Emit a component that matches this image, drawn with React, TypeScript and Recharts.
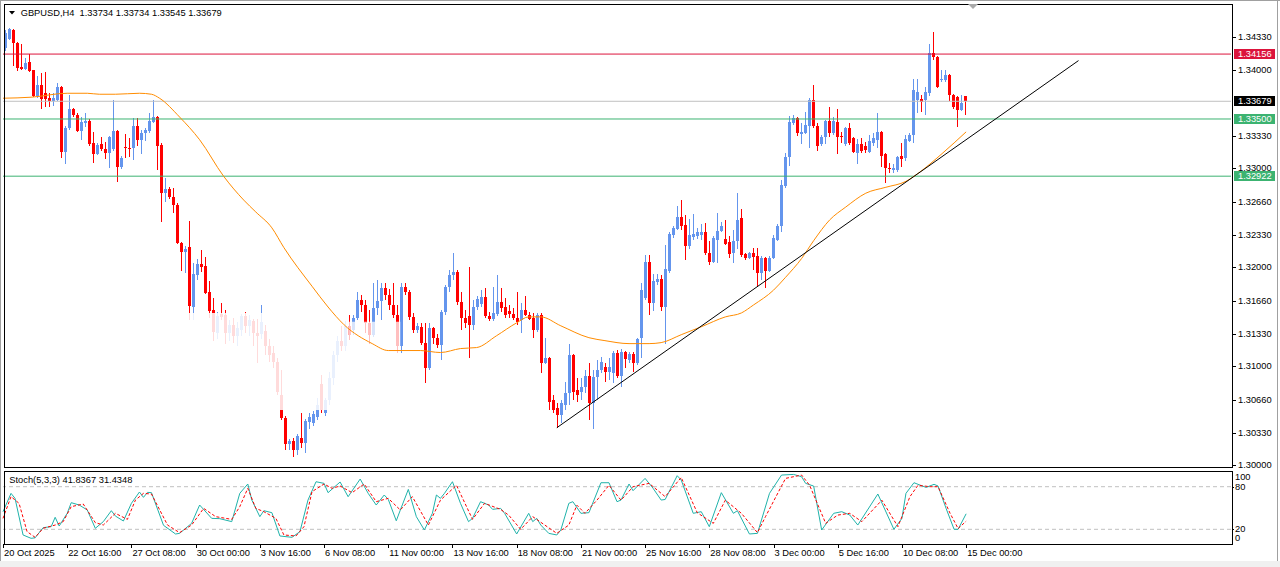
import React from "react";
import { ComposedChart, Bar, Line, XAxis, YAxis, ReferenceLine, ReferenceArea } from "recharts";

const FONT = "'Liberation Sans', Arial, sans-serif";
const SLOTS = 307;

const opens = [
1.3422,1.3431,1.3440,1.3427,1.3403,1.3401,1.3408,1.3399,1.3373,1.3384,
1.3376,1.3371,1.3368,1.3369,1.3382,1.3317,1.3341,1.3360,1.3354,1.3338,
1.3346,1.3348,1.3326,1.3315,1.3325,1.3320,1.3316,1.3320,1.3338,1.3301,
1.3322,1.3321,1.3321,1.3343,1.3329,1.3336,1.3338,1.3347,1.3352,1.3324,
1.3275,1.3279,1.3271,1.3263,1.3225,1.3216,1.3221,1.3160,1.3192,1.3203,
1.3201,1.3175,1.3157,1.3134,1.3153,1.3152,1.3134,1.3142,1.3131,1.3137,
1.3151,1.3141,1.3146,1.3134,1.3133,1.3136,1.3121,1.3114,1.3104,1.3071,
1.3048,1.3022,1.3025,1.3015,1.3028,1.3023,1.3044,1.3043,1.3049,1.3082,
1.3053,1.3066,1.3088,1.3111,1.3126,1.3121,1.3141,1.3137,1.3149,1.3167,
1.3162,1.3144,1.3132,1.3159,1.3166,1.3179,1.3172,1.3162,1.3152,1.3121,
1.3180,1.3175,1.3150,1.3137,1.3140,1.3124,1.3098,1.3139,1.3129,1.3122,
1.3155,1.3180,1.3192,1.3195,1.3165,1.3149,1.3151,1.3142,1.3160,1.3163,
1.3170,1.3151,1.3148,1.3153,1.3165,1.3160,1.3156,1.3153,1.3149,1.3147,
1.3157,1.3152,1.3149,1.3137,1.3152,1.3103,1.3108,1.3066,1.3058,1.3051,
1.3061,1.3073,1.3111,1.3076,1.3074,1.3079,1.3090,1.3063,1.3089,1.3096,
1.3099,1.3094,1.3093,1.3114,1.3090,1.3115,1.3106,1.3113,1.3103,1.3129,
1.3169,1.3205,1.3164,1.3185,1.3188,1.3160,1.3196,1.3233,1.3239,1.3251,
1.3243,1.3222,1.3231,1.3232,1.3233,1.3236,1.3215,1.3205,1.3228,1.3237,
1.3229,1.3226,1.3215,1.3227,1.3250,1.3214,1.3210,1.3215,1.3212,1.3194,
1.3210,1.3196,1.3210,1.3228,1.3242,1.3282,1.3312,1.3346,1.3351,1.3335,
1.3336,1.3343,1.3369,1.3343,1.3325,1.3332,1.3348,1.3336,1.3347,1.3333,
1.3325,1.3341,1.3331,1.3316,1.3325,1.3323,1.3317,1.3326,1.3329,1.3337,
1.3315,1.3300,1.3298,1.3298,1.3313,1.3311,1.3328,1.3334,1.3369,1.3370,
1.3369,1.3376,1.3417,1.3413,1.3389,1.3389,1.3394,1.3374,1.3372,1.3359,
1.33734];

const highs = [
1.3440,1.3442,1.3441,1.3428,1.3426,1.3412,1.3416,1.3400,1.3393,1.3396,
1.3397,1.3376,1.3376,1.3386,1.3383,1.3343,1.3374,1.3361,1.3356,1.3352,
1.3356,1.3350,1.3337,1.3326,1.3332,1.3327,1.3333,1.3369,1.3339,1.3313,
1.3335,1.3331,1.3351,1.3351,1.3339,1.3341,1.3356,1.3369,1.3353,1.3326,
1.3290,1.3281,1.3280,1.3265,1.3226,1.3222,1.3247,1.3204,1.3209,1.3218,
1.3211,1.3186,1.3169,1.3155,1.3164,1.3157,1.3147,1.3149,1.3145,1.3153,
1.3155,1.3152,1.3148,1.3148,1.3162,1.3142,1.3128,1.3121,1.3108,1.3096,
1.3050,1.3027,1.3028,1.3032,1.3053,1.3047,1.3053,1.3055,1.3068,1.3091,
1.3068,1.3094,1.3116,1.3131,1.3141,1.3146,1.3152,1.3152,1.3175,1.3172,
1.3167,1.3157,1.3184,1.3187,1.3184,1.3184,1.3178,1.3184,1.3162,1.3184,
1.3184,1.3177,1.3154,1.3144,1.3144,1.3144,1.3144,1.3140,1.3133,1.3157,
1.3182,1.3197,1.3215,1.3197,1.3175,1.3157,1.3200,1.3167,1.3171,1.3177,
1.3179,1.3155,1.3180,1.3192,1.3179,1.3169,1.3162,1.3159,1.3175,1.3164,
1.3171,1.3155,1.3154,1.3154,1.3154,1.3129,1.3109,1.3071,1.3063,1.3066,
1.3084,1.3123,1.3113,1.3088,1.3088,1.3096,1.3103,1.3096,1.3106,1.3109,
1.3103,1.3108,1.3116,1.3117,1.3118,1.3116,1.3115,1.3115,1.3129,1.3184,
1.3213,1.3213,1.3193,1.3193,1.3192,1.3223,1.3236,1.3242,1.3262,1.3268,
1.3253,1.3249,1.3254,1.3240,1.3244,1.3245,1.3227,1.3232,1.3255,1.3246,
1.3248,1.3232,1.3238,1.3275,1.3259,1.3215,1.3216,1.3220,1.3220,1.3212,
1.3211,1.3212,1.3233,1.3244,1.3288,1.3316,1.3353,1.3354,1.3352,1.3346,
1.3357,1.3371,1.3384,1.3346,1.3334,1.3349,1.3362,1.3352,1.3360,1.3337,
1.3342,1.3346,1.3332,1.3330,1.3331,1.3327,1.3334,1.3336,1.3356,1.3338,
1.3316,1.3306,1.3305,1.3313,1.3326,1.3334,1.3336,1.3390,1.3390,1.3374,
1.3382,1.3426,1.3438,1.3414,1.3399,1.3399,1.3395,1.3375,1.3373,1.3374,
1.33734];

const lows = [
1.3419,1.3430,1.3404,1.3398,1.3400,1.3399,1.3397,1.3372,1.3371,1.3360,
1.3362,1.3362,1.3363,1.3368,1.3311,1.3305,1.3339,1.3352,1.3337,1.3329,
1.3342,1.3323,1.3306,1.3314,1.3318,1.3310,1.3300,1.3318,1.3286,1.3299,
1.3311,1.3312,1.3309,1.3323,1.3315,1.3328,1.3336,1.3346,1.3298,1.3246,
1.3266,1.3269,1.3255,1.3224,1.3196,1.3194,1.3147,1.3147,1.3187,1.3195,
1.3173,1.3149,1.3126,1.3128,1.3147,1.3123,1.3126,1.3124,1.3121,1.3131,
1.3134,1.3131,1.3121,1.3103,1.3128,1.3111,1.3104,1.3098,1.3071,1.3046,
1.3015,1.3015,1.3008,1.3010,1.3018,1.3012,1.3037,1.3040,1.3046,1.3053,
1.3050,1.3061,1.3081,1.3104,1.3116,1.3116,1.3127,1.3132,1.3147,1.3155,
1.3134,1.3123,1.3130,1.3152,1.3147,1.3167,1.3157,1.3149,1.3114,1.3114,
1.3172,1.3147,1.3134,1.3134,1.3122,1.3083,1.3096,1.3123,1.3119,1.3106,
1.3152,1.3175,1.3187,1.3162,1.3137,1.3139,1.3108,1.3137,1.3157,1.3160,
1.3149,1.3146,1.3146,1.3151,1.3155,1.3149,1.3149,1.3147,1.3142,1.3134,
1.3151,1.3147,1.3129,1.3135,1.3093,1.3102,1.3056,1.3053,1.3038,1.3043,
1.3056,1.3061,1.3066,1.3064,1.3066,1.3073,1.3046,1.3037,1.3066,1.3093,
1.3084,1.3086,1.3083,1.3088,1.3079,1.3098,1.3103,1.3094,1.3101,1.3108,
1.3167,1.3152,1.3156,1.3182,1.3156,1.3123,1.3194,1.3230,1.3238,1.3238,
1.3208,1.3219,1.3228,1.3229,1.3228,1.3213,1.3202,1.3204,1.3204,1.3236,
1.3223,1.3210,1.3204,1.3219,1.3211,1.3207,1.3209,1.3197,1.3180,1.3187,
1.3179,1.3195,1.3209,1.3227,1.3236,1.3280,1.3302,1.3344,1.3333,1.3325,
1.3335,1.3321,1.3341,1.3318,1.3323,1.3325,1.3332,1.3334,1.3315,1.3326,
1.3323,1.3324,1.3316,1.3305,1.3316,1.3316,1.3316,1.3323,1.3321,1.3301,
1.3285,1.3295,1.3295,1.3296,1.3301,1.3308,1.3327,1.3326,1.3356,1.3357,
1.3354,1.3373,1.3410,1.3381,1.3387,1.3387,1.3368,1.3360,1.3342,1.3358,
1.33545];

const closes = [
1.3437,1.3441,1.3427,1.3402,1.3401,1.3407,1.3398,1.3373,1.3384,1.3370,
1.3370,1.3368,1.3371,1.3382,1.3317,1.3341,1.3360,1.3354,1.3338,1.3347,
1.3348,1.3325,1.3315,1.3324,1.3320,1.3316,1.3332,1.3338,1.3301,1.3311,
1.3321,1.3320,1.3343,1.3329,1.3336,1.3339,1.3348,1.3352,1.3323,1.3275,
1.3279,1.3271,1.3263,1.3225,1.3216,1.3219,1.3161,1.3193,1.3203,1.3200,
1.3174,1.3156,1.3135,1.3151,1.3150,1.3134,1.3142,1.3131,1.3139,1.3151,
1.3141,1.3147,1.3134,1.3131,1.3145,1.3121,1.3111,1.3104,1.3074,1.3048,
1.3022,1.3025,1.3015,1.3030,1.3023,1.3045,1.3049,1.3052,1.3061,1.3056,
1.3066,1.3088,1.3111,1.3126,1.3121,1.3141,1.3132,1.3149,1.3167,1.3162,
1.3144,1.3132,1.3159,1.3166,1.3179,1.3172,1.3162,1.3152,1.3121,1.3180,
1.3175,1.3150,1.3137,1.3141,1.3124,1.3098,1.3139,1.3129,1.3122,1.3155,
1.3180,1.3192,1.3195,1.3165,1.3149,1.3144,1.3142,1.3160,1.3168,1.3170,
1.3151,1.3148,1.3154,1.3165,1.3159,1.3152,1.3153,1.3149,1.3145,1.3157,
1.3152,1.3148,1.3137,1.3152,1.3103,1.3108,1.3064,1.3056,1.3051,1.3063,
1.3073,1.3111,1.3074,1.3071,1.3079,1.3090,1.3063,1.3089,1.3096,1.3104,
1.3094,1.3099,1.3114,1.3090,1.3115,1.3107,1.3113,1.3103,1.3128,1.3177,
1.3205,1.3164,1.3186,1.3188,1.3160,1.3198,1.3234,1.3240,1.3251,1.3242,
1.3222,1.3233,1.3234,1.3236,1.3236,1.3215,1.3205,1.3230,1.3237,1.3242,
1.3224,1.3214,1.3227,1.3248,1.3213,1.3210,1.3215,1.3211,1.3194,1.3210,
1.3196,1.3210,1.3230,1.3242,1.3283,1.3312,1.3347,1.3351,1.3336,1.3337,
1.3344,1.3369,1.3343,1.3323,1.3332,1.3348,1.3336,1.3348,1.3332,1.3332,
1.3341,1.3326,1.3317,1.3325,1.3318,1.3319,1.3328,1.3331,1.3337,1.3313,
1.3300,1.3299,1.3300,1.3312,1.3310,1.3330,1.3334,1.3379,1.3377,1.3367,
1.3377,1.3417,1.3413,1.3382,1.3390,1.3394,1.3374,1.3362,1.3359,1.3366,
1.33679];

// moving average read at selected bars: [bar, value]
const maPoints: [number, number][] = [
[0,1.3371],[7,1.3372],[16,1.3376],[21,1.3376],[24,1.3375],[28,1.3375],[34,1.3376],[37,1.3375],
[39,1.3371],[44,1.3352],[49,1.3329],[55,1.3292],[60,1.3268],[63,1.3256],[67,1.3240],[70,1.3220],
[77,1.3181],[81,1.3160],[85,1.3142],[92,1.3123],[96,1.3116],[104,1.3116],[109,1.3114],[114,1.3118],
[118,1.3119],[123,1.3131],[128,1.3144],[131,1.3150],[134,1.3150],[139,1.3141],[146,1.3129],[150,1.3126],
[156,1.3123],[161,1.3123],[164,1.3124],[169,1.3132],[174,1.3140],[180,1.3150],[184,1.3154],[187,1.3162],
[192,1.3177],[195,1.3190],[199,1.3209],[202,1.3227],[206,1.3248],[210,1.3261],[215,1.3275],[220,1.3281],
[225,1.3287],[228,1.3295],[234,1.3315],[240,1.3337]];

const trendPoints: [number, number][] = [[138, 1.3038], [268, 1.3409]];

const stochMain: [number, number][] = [
[0,44.8],[2,70.6],[3,63.6],[5,12],[7,7.3],[8,8],[10,22.3],[12,23.7],[13,36.9],[14,24.6],[16,42.5],[17,57.5],
[19,54.2],[21,47.2],[23,21.4],[25,30.8],[27,46.2],[28,38.7],[30,31.7],[32,56.6],[34,72.5],[35,65],[36,72],
[37,71.6],[40,25.6],[43,13.4],[44,14.3],[47,28.4],[49,54.2],[52,35.4],[54,35],[57,30.8],[59,70.6],[61,83.8],
[62,61.2],[64,37.8],[65,46.2],[67,43.4],[69,10.6],[72,8.7],[74,16.7],[76,61.2],[78,87],[80,84.7],[81,71.6],
[84,86.6],[86,65.9],[89,90.8],[91,70.6],[93,54.2],[95,68.3],[96,62.2],[98,32],[99,47],[101,76.2],[103,37.8],
[105,19],[107,42.5],[108,68.3],[109,63.6],[110,70.6],[112,87],[114,56.6],[116,30.8],[117,35.4],[119,58.9],
[121,54.2],[122,48.1],[124,49.5],[125,42.5],[128,13.4],[131,42.5],[132,30.8],[133,35.4],[134,26],[136,14.3],
[138,12],[139,19],[141,56.6],[142,58.9],[144,42.5],[146,43.4],[149,85.6],[151,85.6],[153,58.9],[154,61.2],
[156,83.8],[157,74.4],[160,91.7],[162,77.7],[164,61.2],[165,62],[168,95.5],[169,89.4],[172,42.5],[174,44.8],
[176,23.7],[179,71.6],[182,42.5],[183,46.2],[186,13.4],[188,14.3],[189,33.1],[191,70.6],[194,96.4],[197,97.3],
[199,94],[200,84.7],[202,80.9],[204,19],[207,42.5],[209,44.8],[211,40.1],[213,26],[218,69.7],[222,20],
[224,35.4],[225,70.6],[227,85.6],[230,79],[232,83.3],[233,81],[235,49.5],[237,20],[238,20],[240,41.8367]];

const stochSignal: [number, number][] = [
[0,35.4],[2,66],[4,56.6],[6,16.7],[8,8.7],[10,21.4],[13,26],[15,30.8],[17,51.9],[20,55.6],[23,29.4],[25,26],
[28,42.5],[31,34],[33,61.2],[35,70.6],[37,69.7],[41,26],[44,15.3],[47,26],[50,49.5],[53,37.8],[57,34],[59,51.9],
[61,77.7],[63,49.5],[65,44.8],[68,35.4],[70,12],[73,10.6],[75,23.7],[77,73],[80,83.8],[82,77.7],[84,81],[87,71.6],
[90,83.8],[93,58.9],[96,63.6],[99,47.2],[102,66],[106,26],[109,61],[113,82],[117,34],[120,56.6],[124,48],[126,40],
[129,20],[132,37.8],[135,26],[138,14.3],[141,26],[143,54],[145,42.5],[148,61],[151,82],[154,61],[157,80],[161,84.7],
[165,66],[169,93],[173,43.4],[177,28.4],[180,61],[184,42.5],[188,15.3],[190,37.8],[195,91.7],[199,96.4],[201,82],
[205,28.4],[208,40],[211,42.5],[214,30.8],[219,61],[223,23.7],[226,66],[228,82],[231,80],[233,80],[236,42.5],
[238,21],[240,31.4348]];

const dateTickBars = [0,16,32,48,64,80,96,112,128,144,160,176,192,208,224,240];
const dateLabels = ["20 Oct 2025","22 Oct 16:00","27 Oct 08:00","30 Oct 00:00","3 Nov 16:00","6 Nov 08:00",
"11 Nov 00:00","13 Nov 16:00","18 Nov 08:00","21 Nov 00:00","25 Nov 16:00","28 Nov 08:00","3 Dec 00:00",
"5 Dec 16:00","10 Dec 08:00","15 Dec 00:00"];

const priceTicks = [1.3,1.3033,1.3066,1.31,1.3133,1.3166,1.32,1.3233,1.3266,1.33,1.3333,1.34,1.3433];
const stochTicks = [0,20,80,100];
const resistance = 1.34156;
const lastPrice = 1.33679;
const support1 = 1.335;
const support2 = 1.32922;
const fadeZone = { x1: 44, x2: 86, y1: 1.3056, y2: 1.3154 };
const fadeZone2 = { x1: 86, x2: 99, y1: 1.3106, y2: 1.3145 };

const toMap = (pts: [number, number][]) => new Map(pts.map(([k, v]) => [k, v]));
const maMap = toMap(maPoints);
const trMap = toMap(trendPoints);
const smMap = toMap(stochMain);
const ssMap = toMap(stochSignal);

const rows = Array.from({ length: SLOTS }, (_, i) => ({
  i,
  o: i < opens.length ? opens[i] : null,
  h: i < highs.length ? highs[i] : null,
  l: i < lows.length ? lows[i] : null,
  c: i < closes.length ? closes[i] : null,
  ma: maMap.has(i) ? maMap.get(i) : null,
  tr: trMap.has(i) ? trMap.get(i) : null,
  sm: smMap.has(i) ? smMap.get(i) : null,
  ss: ssMap.has(i) ? ssMap.get(i) : null,
}));

const UP = "#6495ED";
const DOWN = "#FF0000";
const PRICE_DOMAIN: [number, number] = [1.29973, 1.34662];
const MAIN_MARGIN = { top: 4, left: 3, right: 0, bottom: 2 };

const Candle = (props: any) => {
  const { x, y, width, height, payload } = props;
  if (!payload || payload.o == null || !isFinite(x) || !isFinite(y) || !isFinite(height)) return <g />;
  const top = Math.min(y, y + height);
  const h = Math.abs(height);
  const range = payload.h - payload.l || 1e-9;
  const toY = (v: number) => top + ((payload.h - v) / range) * h;
  const yo = toY(payload.o);
  const yc = toY(payload.c);
  const color = payload.c >= payload.o ? UP : DOWN;
  const cx = Math.floor(x + width / 2);
  const wt = Math.round(top);
  const wb = Math.max(wt + 1, Math.round(top + h));
  const bt = Math.round(Math.min(yo, yc));
  const bb = Math.max(bt + 1, Math.round(Math.max(yo, yc)));
  return (
    <g shapeRendering="crispEdges">
      <rect x={cx} y={wt} width={1} height={wb - wt} fill={color} />
      <rect x={cx - 1} y={bt} width={3} height={bb - bt} fill={color} />
    </g>
  );
};

const PriceTick = (p: any) => {
  const { x, y, payload } = p;
  const yy = Math.round(y) + 0.5;
  return (
    <g>
      <line x1={x + 1} x2={x + 5} y1={yy} y2={yy} stroke="#000" shapeRendering="crispEdges" />
      <text x={x + 7} y={y} dominantBaseline="central" fontSize={9.3} fontFamily={FONT} fill="#000">
        {Number(payload.value).toFixed(5)}
      </text>
    </g>
  );
};

const StochTick = (p: any) => {
  const { x, y, payload } = p;
  const v = payload.value;
  const dy = v === 100 ? 4.5 : v === 0 ? -6 : 0;
  const yy = Math.round(y) + 0.5;
  return (
    <g>
      {v === 20 || v === 80 ? (
        <line x1={x + 1} x2={x + 3} y1={yy} y2={yy} stroke="#000" shapeRendering="crispEdges" />
      ) : null}
      <text x={x + 4} y={y + dy} dominantBaseline="central" fontSize={9.3} fontFamily={FONT} fill="#000">
        {String(v)}
      </text>
    </g>
  );
};

const DateTick = (p: any) => {
  const { x, y, payload } = p;
  const idx = dateTickBars.indexOf(payload.value);
  const xx = Math.round(x) + 0.5;
  return (
    <g>
      <line x1={xx} x2={xx} y1={y + 0.5} y2={y + 4.5} stroke="#000" shapeRendering="crispEdges" />
      <text x={x + 1} y={y + 9.5} dominantBaseline="central" fontSize={9.3} fontFamily={FONT} fill="#000">
        {idx >= 0 ? dateLabels[idx] : ""}
      </text>
    </g>
  );
};

const makeTag = (bg: string, text: string) => (props: any) => {
  const vb = props.viewBox || {};
  const x = (vb.x || 0) + (vb.width || 0) + 3;
  const y = vb.y || 0;
  return (
    <g>
      <rect x={x} y={Math.round(y) - 5} width={41} height={10} fill={bg} shapeRendering="crispEdges" />
      <text x={x + 4} y={y} dominantBaseline="central" fontSize={9.3} fontFamily={FONT} fill="#fff">
        {text}
      </text>
    </g>
  );
};

const candleRange = (d: any) => (d.o == null ? null : [d.l, d.h]);

export default function App() {
  return (
    <div style={{ position: "absolute", left: 0, top: 0, width: 1280, height: 567, background: "#fff", overflow: "hidden" }}>
      <div style={{ position: "absolute", left: 0, top: 0 }}>
        <ComposedChart width={1280} height={470} data={rows} margin={MAIN_MARGIN}>
          <XAxis dataKey="i" type="category" hide />
          <YAxis
            orientation="right"
            width={49}
            domain={PRICE_DOMAIN}
            allowDataOverflow
            ticks={priceTicks}
            interval={0}
            tick={<PriceTick />}
            tickLine={false}
            axisLine={false}
            tickSize={0}
            tickMargin={0}
          />
          <Bar dataKey={candleRange} barSize={3} shape={Candle} isAnimationActive={false} />
          <ReferenceLine y={resistance} stroke="#DC143C" strokeWidth={1} label={makeTag("#DC143C", resistance.toFixed(5))} />
          <ReferenceLine y={lastPrice} stroke="#C0C0C0" strokeWidth={1} label={makeTag("#000000", lastPrice.toFixed(5))} />
          <ReferenceLine y={support1} stroke="#3CB371" strokeWidth={1} label={makeTag("#3CB371", support1.toFixed(5))} />
          <ReferenceLine y={support2} stroke="#3CB371" strokeWidth={1} label={makeTag("#3CB371", support2.toFixed(5))} />
        </ComposedChart>
      </div>
      <div style={{ position: "absolute", left: 0, top: 0 }}>
        <ComposedChart width={1280} height={470} data={rows} margin={MAIN_MARGIN}>
          <XAxis dataKey="i" type="category" hide />
          <YAxis orientation="right" width={49} domain={PRICE_DOMAIN} allowDataOverflow tick={false} tickLine={false} axisLine={false} />
          <ReferenceArea x1={fadeZone.x1} x2={fadeZone.x2} y1={fadeZone.y1} y2={fadeZone.y2} fill="#fff" fillOpacity={0.86} stroke="none" />
          <ReferenceArea x1={fadeZone2.x1} x2={fadeZone2.x2} y1={fadeZone2.y1} y2={fadeZone2.y2} fill="#fff" fillOpacity={0.75} stroke="none" />
          <Line dataKey="ma" type="monotone" stroke="#FF8C00" strokeWidth={1} dot={false} connectNulls isAnimationActive={false} />
          <Line dataKey="tr" type="linear" stroke="#000" strokeWidth={1} dot={false} connectNulls isAnimationActive={false} />
        </ComposedChart>
      </div>
      <div style={{ position: "absolute", left: 0, top: 467 }}>
        <ComposedChart width={1280} height={100} data={rows} margin={{ top: 5.5, left: 3, right: 0, bottom: 5.5 }}>
          <XAxis
            dataKey="i"
            type="category"
            ticks={dateTickBars}
            interval={0}
            tick={<DateTick />}
            tickLine={false}
            axisLine={false}
            height={18}
            tickSize={0}
            tickMargin={0}
          />
          <YAxis
            orientation="right"
            width={49}
            domain={[0, 100]}
            allowDataOverflow
            ticks={stochTicks}
            interval={0}
            tick={<StochTick />}
            tickLine={false}
            axisLine={false}
            tickSize={0}
            tickMargin={0}
          />
          <ReferenceLine y={80} stroke="#C0C0C0" strokeDasharray="4 3" />
          <ReferenceLine y={20} stroke="#C0C0C0" strokeDasharray="4 3" />
          <Line dataKey="sm" type="linear" stroke="#20B2AA" strokeWidth={1} dot={false} connectNulls isAnimationActive={false} />
          <Line dataKey="ss" type="linear" stroke="#FF0000" strokeWidth={1} strokeDasharray="3 2" dot={false} connectNulls isAnimationActive={false} />
        </ComposedChart>
      </div>
      <svg width={1280} height={567} style={{ position: "absolute", left: 0, top: 0, pointerEvents: "none" }}>
        <g shapeRendering="crispEdges" fill="none">
          <line x1={0.5} y1={0} x2={0.5} y2={562} stroke="#A0A0A0" />
          <line x1={0} y1={0.5} x2={1280} y2={0.5} stroke="#A0A0A0" />
          <line x1={1277.5} y1={0} x2={1277.5} y2={562} stroke="#A0A0A0" />
          <rect x={0} y={561} width={1280} height={6} fill="#F0F0F0" stroke="none" />
          <rect x={4.5} y={4.5} width={1228} height={463} stroke="#000" />
          <rect x={4.5} y={471.5} width={1228} height={73} stroke="#000" />
        </g>
        <polygon points="9,11 15,11 12,14.5" fill="#000" />
        <polygon points="968,4 978,4 973,9" fill="#A9A9A9" />
        <text x={20.7} y={13} dominantBaseline="central" fontSize={9.3} fontFamily={FONT} fill="#000" style={{ whiteSpace: "pre" }}>
          {"GBPUSD,H4  1.33734 1.33734 1.33545 1.33679"}
        </text>
        <text x={9.3} y={479.5} dominantBaseline="central" fontSize={9.3} fontFamily={FONT} fill="#000" style={{ whiteSpace: "pre" }}>
          {"Stoch(5,3,3) 41.8367 31.4348"}
        </text>
      </svg>
    </div>
  );
}
